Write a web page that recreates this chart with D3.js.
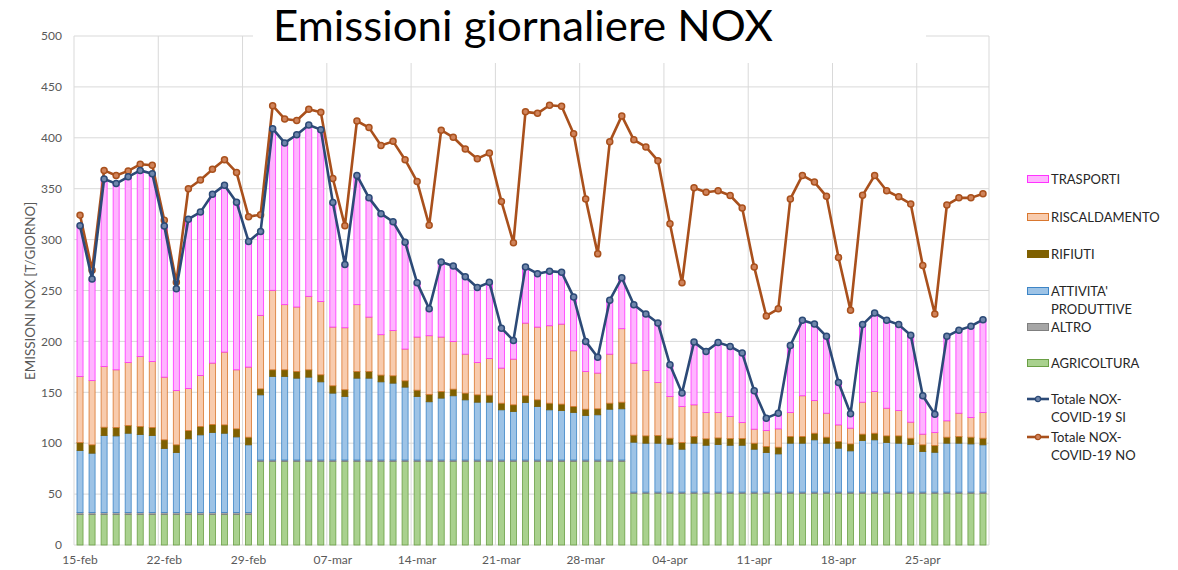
<!DOCTYPE html>
<html>
<head>
<meta charset="utf-8">
<script src="https://cdnjs.cloudflare.com/ajax/libs/d3/7.8.5/d3.min.js"></script>
<style>
  body { margin: 0; background: #fff; }
  text { font-family: Lato, "Open Sans", sans-serif; }
</style>
</head>
<body>
<div id="chart"></div>
<script>
// valori (t/giorno), 15-feb .. 30-apr 2020
var tickLabels = ["15-feb","22-feb","29-feb","07-mar","14-mar","21-mar","28-mar","04-apr","11-apr","18-apr","25-apr"];
var nDays = 76;

var agricoltura = [30,30,30,30,30,30,30,30,30,30,30,30,30,30,30,
  82,82,82,82,82,82,82,82,82,82,82,82,82,82,82,82,82,82,82,82,82,82,82,82,82,82,82,82,82,82,82,
  50.5,50.5,50.5,50.5,50.5,50.5,50.5,50.5,50.5,50.5,50.5,50.5,50.5,50.5,50.5,50.5,50.5,50.5,50.5,50.5,50.5,50.5,50.5,50.5,50.5,50.5,50.5,50.5,50.5,50.5];
var altro = [2,2,2,2,2,2,2,2,2,2,2,2,2,2,2,
  1.5,1.5,1.5,1.5,1.5,1.5,1.5,1.5,1.5,1.5,1.5,1.5,1.5,1.5,1.5,1.5,1.5,1.5,1.5,1.5,1.5,1.5,1.5,1.5,1.5,1.5,1.5,1.5,1.5,1.5,1.5,
  1.5,1.5,1.5,1.5,1.5,1.5,1.5,1.5,1.5,1.5,1.5,1.5,1.5,1.5,1.5,1.5,1.5,1.5,1.5,1.5,1.5,1.5,1.5,1.5,1.5,1.5,1.5,1.5,1.5,1.5];
var attivita = [60.8,58.2,75.5,75.2,77.8,76.5,75.5,62.8,58.8,72.3,76.2,78.5,77.8,74.2,66.4,
  64,82.1,82.1,80.4,81.4,76.8,65.7,62.4,80.4,80.4,76.8,75.5,71.6,62.4,57.2,
  60.8,63.1,59.1,56.8,56.8,49.3,47.6,56.5,52.6,49.3,48.6,46.7,43.7,44.4,49.9,50.3,
  49,48,48,47,42.1,48,46,46.7,46,46,42.1,38.8,37.5,48,48,51.3,48,43.1,40.5,50.6,51.3,48.7,48,46.7,39.8,39.1,48,48,47.3,46.4];
var rifiuti = [7.9,8.2,8.2,8.2,7.6,7.9,7.9,8.5,7.6,8.2,8.2,7.9,8.2,7.9,7.5,
  5.9,6.5,6.5,6.6,7.2,6.9,7.2,6.6,6.6,6.6,6.6,7.2,6.2,6.2,7.2,
  6.5,6.5,6.6,7.2,6.9,6.5,6.6,6.6,6.5,6.5,6.3,5.9,6.2,5.9,5.9,6.5,
  6.9,7.2,7.5,5.9,6.6,6.6,6.3,6.5,6.6,6.6,5.9,5.9,6.6,6.6,6.6,6.5,5.9,6.5,6.8,6.3,6.5,6.5,7.2,6.2,6.6,6.6,5.9,6.6,6.6,6.5];
var riscaldamento = [64.9,63.2,59.7,56.7,61.9,68.8,64.9,61.6,53.4,41.3,50.2,60.3,71.5,58,68.9,
  72.2,78.1,64,63.3,72.2,72.1,57.7,60.9,65.6,53.4,39.7,44.6,31.2,52.2,57.7,
  53.5,46.9,38.3,31.8,36.1,34.5,44.9,71.4,71.5,76.1,78.6,54.7,37.1,35.1,48.2,72.2,
  70.8,64.3,52.2,41,35.4,31.1,25.9,25,21.6,15.7,13.8,15.8,18,23.6,40,32.2,23.6,16.4,15.5,31.4,41,27.2,24.9,15.8,10.5,12.8,16.1,22.9,19.3,25.3];
var trasporti = [147.9,99.6,184.1,182.9,182.4,182.8,184.4,148.4,100,166.2,160.4,165.8,164,164.6,123.4,
  82.4,158.8,158.9,169.2,168.2,168.7,122.4,62.1,126.9,117.1,118.9,106.7,105,53.2,26.4,
  73.7,74,76,73.7,74.7,39.2,18.4,55,52.4,53.6,51,52.7,29.5,15.6,53,50,
  57.3,55.5,58.3,31.1,13.1,61.6,60,68.8,68.9,68.2,37.7,12.1,15.4,65.8,74.1,75,75.5,41.7,14.2,76.2,77.2,86.3,84.4,85.3,37.7,18,83,81.5,89.8,91.1];
var totaleSi = [313.5,261.2,359.5,355,361.7,368,364.7,313.3,251.8,320,327,344.5,353.5,336.7,298.2,
  308,409,395,403,412.5,408,336.5,275.5,363,341,325.5,317.5,297.5,257.5,232,
  278,274,263.5,253,258,213,201,273,266.5,269,268,243.5,200,184.5,240.5,262.5,
  236,227,218,177,149.2,199.3,190.2,199,195.1,188.5,151.5,124.6,129.5,196,220.7,217,205,159.7,129,216.5,228,220.7,216.5,206,146.6,128.5,205,211,215,221.3];
var totaleNo = [324,270,368,363,367.5,374,373,319,258,350,358.5,369,378.5,366,322.5,
  324.5,431.5,418.5,417,428,425,360,313.5,416.5,410,392.5,396.5,378.5,357,314,
  407.5,400.5,389,379.5,385,337.5,297,425.5,424,432,431,404,340,286,396,421.5,
  398,391,377.5,315.5,257.5,351,346.5,348,343.3,331,273,225,232,340,363,356.5,342.5,282.5,230.5,343.5,363,348,342,335,274.5,227,334,341,341,345];

var keys = ["agricoltura","altro","attivita","rifiuti","riscaldamento","trasporti"];
var fills = {agricoltura:"#a9d18e", altro:"#a6a6a6", attivita:"#9dc3e6", rifiuti:"#7f6000", riscaldamento:"#f8cbad", trasporti:"#ffb5ff"};
var strokes = {agricoltura:"#6a9f45", altro:"#7f7f7f", attivita:"#3d85c6", rifiuti:"#7f6000", riscaldamento:"#d9772f", trasporti:"#ff33ff"};

var rows = d3.range(nDays).map(function(i){
  return {i:i, agricoltura:agricoltura[i], altro:altro[i], attivita:attivita[i],
    rifiuti:rifiuti[i], riscaldamento:riscaldamento[i], trasporti:trasporti[i]};
});

var margin = {top: 36, right: 189, bottom: 25, left: 74};
var width = 1178 - margin.left - margin.right,
    height = 570 - margin.top - margin.bottom;

var root = d3.select("#chart").append("svg")
  .attr("width", 1178).attr("height", 570);
root.append("rect").attr("width", 1178).attr("height", 570).attr("fill", "#fff");

var svg = root.append("g")
  .attr("transform", "translate(" + margin.left + "," + margin.top + ")");

var x = d3.scaleBand().domain(d3.range(nDays)).range([0, width])
  .paddingInner(0.5).paddingOuter(0.25);
var y = d3.scaleLinear().domain([0, 500]).range([height, 0]);

var half = (x.step() - x.bandwidth()) / 2;
var tickIdx = tickLabels.map(function(d, k){ return k * 7; });

// griglia
svg.append("g").selectAll("line.h")
  .data(y.ticks(10))
  .enter().append("line")
  .attr("x1", 0).attr("x2", width)
  .attr("y1", function(d){ return y(d); }).attr("y2", function(d){ return y(d); })
  .attr("stroke", "#d9d9d9").attr("stroke-width", 1);

svg.append("g").selectAll("line.v")
  .data(tickIdx)
  .enter().append("line")
  .attr("x1", function(d){ return x(d) - half; }).attr("x2", function(d){ return x(d) - half; })
  .attr("y1", 0).attr("y2", height)
  .attr("stroke", "#d9d9d9").attr("stroke-width", 1);

svg.append("line").attr("x1", width).attr("x2", width).attr("y1", 0).attr("y2", height)
  .attr("stroke", "#d9d9d9");

// barre impilate
var series = d3.stack().keys(keys)(rows);
svg.append("g").selectAll("g")
  .data(series)
  .enter().append("g")
  .attr("fill", function(d){ return fills[d.key]; })
  .attr("stroke", function(d){ return strokes[d.key]; })
  .attr("stroke-width", 0.8)
  .selectAll("rect")
  .data(function(d){ return d; })
  .enter().append("rect")
  .attr("x", function(d){ return x(d.data.i); })
  .attr("width", x.bandwidth())
  .attr("y", function(d){ return y(d[1]); })
  .attr("height", function(d){ return Math.max(0, y(d[0]) - y(d[1])); });

// linee totali
var line = d3.line()
  .x(function(d, i){ return x(i) + x.bandwidth() / 2; })
  .y(function(d){ return y(d); });

function drawTotal(values, color, markFill) {
  svg.append("path").datum(values)
    .attr("fill", "none").attr("stroke", color)
    .attr("stroke-width", 2.6).attr("stroke-linejoin", "round")
    .attr("d", line);
  svg.append("g").selectAll("circle")
    .data(values)
    .enter().append("circle")
    .attr("cx", function(d, i){ return x(i) + x.bandwidth() / 2; })
    .attr("cy", function(d){ return y(d); })
    .attr("r", 3)
    .attr("fill", markFill).attr("stroke", color).attr("stroke-width", 1.5);
}
drawTotal(totaleNo, "#a9501c", "#d0835a");
drawTotal(totaleSi, "#2c4a77", "#6f86ab");

// assi
svg.append("g").selectAll("text")
  .data(y.ticks(10))
  .enter().append("text")
  .attr("x", -12).attr("y", function(d){ return y(d); }).attr("dy", "0.35em")
  .attr("text-anchor", "end").attr("font-size", 12).attr("fill", "#595959")
  .text(function(d){ return d; });

svg.append("g").selectAll("text")
  .data(tickLabels)
  .enter().append("text")
  .attr("x", function(d, k){ return x(k * 7) + x.bandwidth() / 2; })
  .attr("y", height + 19)
  .attr("text-anchor", "middle").attr("font-size", 12).attr("fill", "#595959")
  .text(function(d){ return d; });

root.append("text")
  .attr("transform", "translate(35,291) rotate(-90)")
  .attr("text-anchor", "middle").attr("font-size", 12.5).attr("fill", "#595959")
  .attr("textLength", 178).attr("lengthAdjust", "spacingAndGlyphs")
  .text("EMISSIONI NOX  [T/GIORNO]");

// titolo
root.append("rect").attr("x", 253).attr("y", 0).attr("width", 673).attr("height", 63).attr("fill", "#fff");
root.append("text")
  .attr("x", 523).attr("y", 41)
  .attr("text-anchor", "middle").attr("font-size", 42).attr("fill", "#000")
  .attr("textLength", 500).attr("lengthAdjust", "spacingAndGlyphs")
  .text("Emissioni giornaliere NOX");

// legenda
var legendItems = [
  {key:"trasporti", type:"rect", lines:["TRASPORTI"], y:179},
  {key:"riscaldamento", type:"rect", lines:["RISCALDAMENTO"], y:217},
  {key:"rifiuti", type:"rect", lines:["RIFIUTI"], y:254},
  {key:"attivita", type:"rect", lines:["ATTIVITA'", "PRODUTTIVE"], y:291},
  {key:"altro", type:"rect", lines:["ALTRO"], y:327},
  {key:"agricoltura", type:"rect", lines:["AGRICOLTURA"], y:363},
  {color:"#2c4a77", mark:"#6f86ab", type:"line", lines:["Totale NOX-", "COVID-19 SI"], y:399},
  {color:"#a9501c", mark:"#d0835a", type:"line", lines:["Totale NOX-", "COVID-19 NO"], y:437}
];

var legend = root.append("g");
legendItems.forEach(function(it){
  var g = legend.append("g").attr("transform", "translate(1027," + it.y + ")");
  if (it.type === "rect") {
    g.append("rect").attr("x", 0.5).attr("y", -3.5).attr("width", 21).attr("height", 7)
      .attr("fill", fills[it.key]).attr("stroke", strokes[it.key]).attr("stroke-width", 1);
  } else {
    g.append("line").attr("x1", 0).attr("x2", 22).attr("y1", 0).attr("y2", 0)
      .attr("stroke", it.color).attr("stroke-width", 2.6);
    g.append("circle").attr("cx", 11).attr("cy", 0).attr("r", 2.6)
      .attr("fill", it.mark).attr("stroke", it.color).attr("stroke-width", 1.3);
  }
  it.lines.forEach(function(t, j){
    g.append("text").attr("x", 24).attr("y", j * 18.5).attr("dy", "0.35em")
      .attr("font-size", 13).attr("fill", "#262626").text(t);
  });
});
</script>
</body>
</html>
